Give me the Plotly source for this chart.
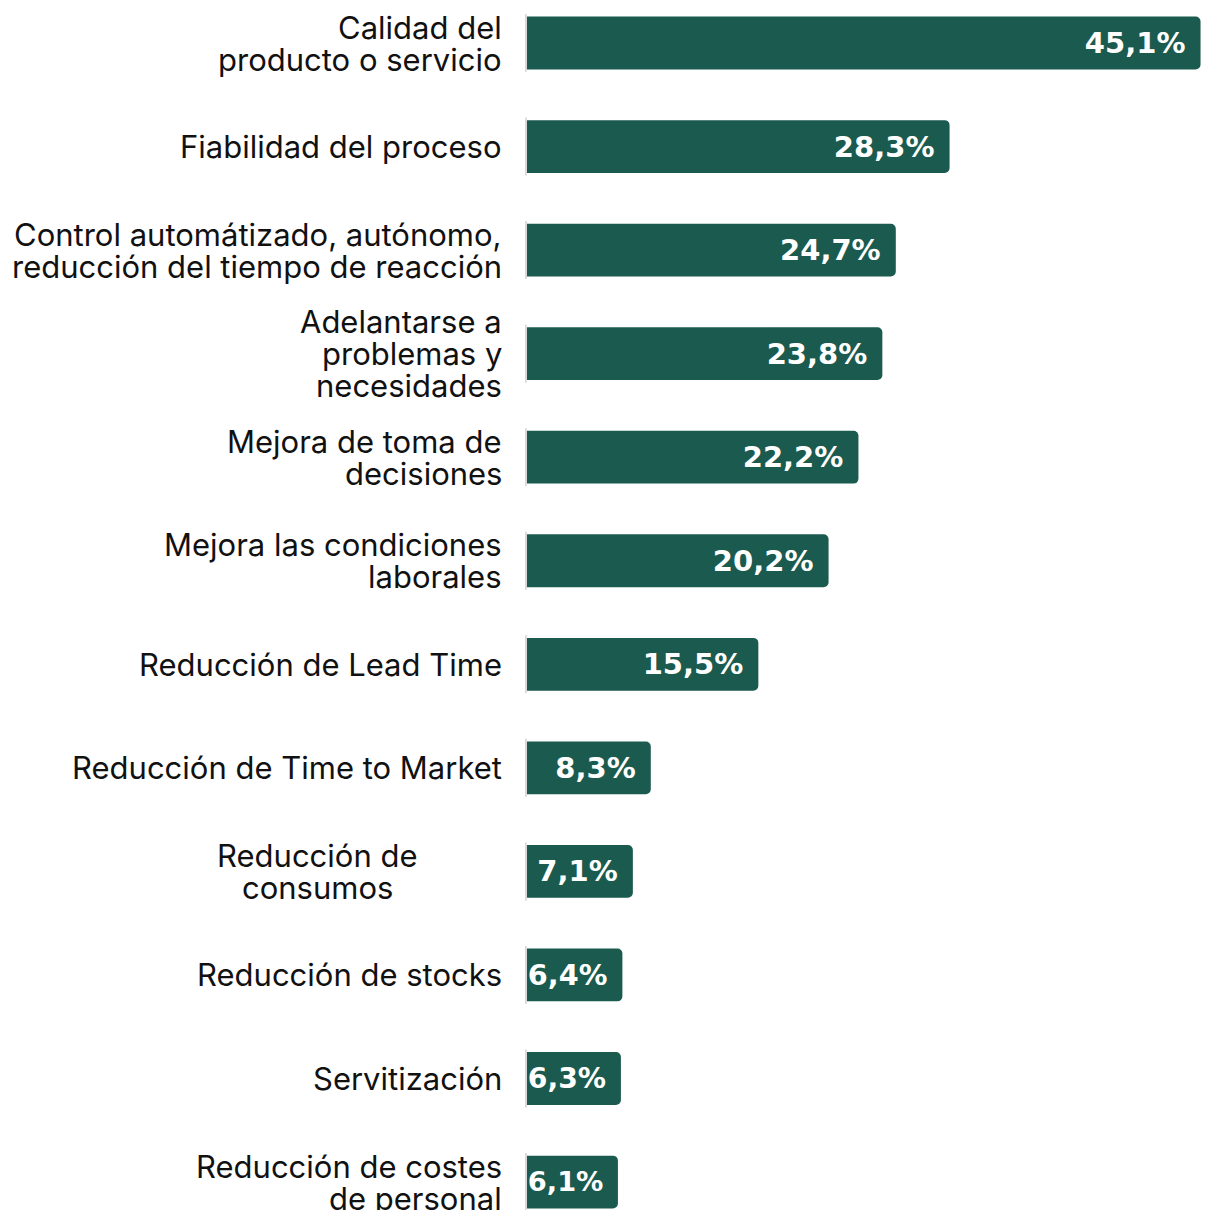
import plotly.graph_objects as go

categories = [
    "Calidad del<br>producto o servicio",
    "Fiabilidad del proceso",
    "Control automátizado, autónomo,<br>reducción del tiempo de reacción",
    "Adelantarse a<br>problemas y<br>necesidades",
    "Mejora de toma de<br>decisiones",
    "Mejora las condiciones<br>laborales",
    "Reducción de Lead Time",
    "Reducción de Time to Market",
    "Reducción de<br>consumos",
    "Reducción de stocks",
    "Servitización",
    "Reducción de costes<br>de personal",
]
values = [45.1, 28.3, 24.7, 23.8, 22.2, 20.2, 15.5, 8.3, 7.1, 6.4, 6.3, 6.1]
value_labels = ["45,1%", "28,3%", "24,7%", "23,8%", "22,2%", "20,2%", "15,5%",
                "8,3%", "7,1%", "6,4%", "6,3%", "6,1%"]
centered_labels = ["Reducción de<br>consumos"]

BAR_COLOR = "#1b5a4e"
LINE_SPACING = 32

fig = go.Figure()
fig.add_trace(go.Bar(
    y=categories, x=values, orientation="h",
    marker=dict(color=BAR_COLOR, cornerradius=5, line=dict(width=0)),
    width=0.51,
    text=[v + "\u00a0" for v in value_labels],
    textposition="inside", insidetextanchor="end", constraintext="none",
    textfont=dict(family="DejaVu Sans", size=29, color="white", weight="bold"),
    hoverinfo="skip",
))

shapes = []
annotations = []
for i, cat in enumerate(categories):
    shapes.append(dict(type="line", xref="x", yref="y", x0=-0.07, x1=-0.07,
                       y0=i - 0.28, y1=i + 0.28,
                       line=dict(color="#dcd6d6", width=2), layer="above"))
    lines = cat.split("<br>")
    n = len(lines)
    centered = cat in centered_labels
    for k, ln in enumerate(lines):
        annotations.append(dict(
            xref="x", yref="y", x=0, y=i, text=ln, showarrow=False,
            xanchor="center" if centered else "right", yanchor="middle",
            xshift=-209 if centered else -24,
            yshift=((n - 1) / 2 - k) * LINE_SPACING,
            borderpad=0,
            font=dict(family="Inter", size=31, color="#111111"),
        ))

fig.update_layout(
    width=1206, height=1202,
    margin=dict(l=517, r=0, t=0, b=0),
    paper_bgcolor="white", plot_bgcolor="white",
    showlegend=False,
    shapes=shapes, annotations=annotations,
    xaxis=dict(range=[-0.12, 46], visible=False),
    yaxis=dict(type="category", categoryorder="array", categoryarray=categories,
               range=[11.27, -0.338], showticklabels=False, showgrid=False,
               zeroline=False, showline=False, ticks=""),
)

fig.write_html("out.html")
